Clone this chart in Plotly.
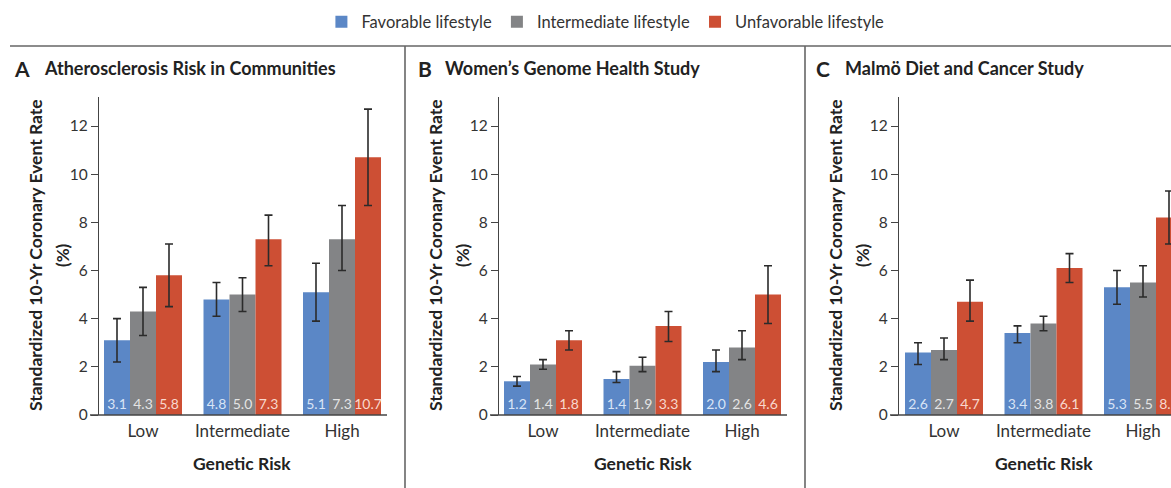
import plotly.graph_objects as go

categories = ["Low", "Intermediate", "High"]
series_names = ["Favorable lifestyle", "Intermediate lifestyle", "Unfavorable lifestyle"]
colors = ["#5b87c6", "#838486", "#cd4f34"]
label_colors = ["rgba(225,236,250,0.95)", "rgba(235,235,235,0.95)", "rgba(252,225,218,0.95)"]

panel_letters = ["A", "B", "C"]
panel_titles = ["Atherosclerosis Risk in Communities", "Women\u2019s Genome Health Study", "Malm\u00f6 Diet and Cancer Study"]

# values[panel][series][category]
A_vals = [[3.1, 4.8, 5.1], [4.3, 5.0, 7.3], [5.8, 7.3, 10.7]]
A_hi = [[4.0, 5.5, 6.3], [5.3, 5.7, 8.7], [7.1, 8.3, 12.7]]
A_lo = [[2.2, 4.1, 3.9], [3.3, 4.3, 6.0], [4.5, 6.2, 8.7]]
A_lbl = [["3.1", "4.8", "5.1"], ["4.3", "5.0", "7.3"], ["5.8", "7.3", "10.7"]]

B_vals = [[1.4, 1.5, 2.2], [2.1, 2.05, 2.8], [3.1, 3.7, 5.0]]
B_hi = [[1.6, 1.8, 2.7], [2.3, 2.4, 3.5], [3.5, 4.3, 6.2]]
B_lo = [[1.2, 1.35, 1.8], [1.9, 1.8, 2.3], [2.7, 3.05, 3.8]]
B_lbl = [["1.2", "1.4", "2.0"], ["1.4", "1.9", "2.6"], ["1.8", "3.3", "4.6"]]

C_vals = [[2.6, 3.4, 5.3], [2.7, 3.8, 5.5], [4.7, 6.1, 8.2]]
C_hi = [[3.0, 3.7, 6.0], [3.2, 4.1, 6.2], [5.6, 6.7, 9.3]]
C_lo = [[2.1, 3.0, 4.6], [2.3, 3.5, 4.9], [3.9, 5.5, 7.1]]
C_lbl = [["2.6", "3.4", "5.3"], ["2.7", "3.8", "5.5"], ["4.7", "6.1", "8.2"]]

panels = [(A_vals, A_hi, A_lo, A_lbl), (B_vals, B_hi, B_lo, B_lbl), (C_vals, C_hi, C_lo, C_lbl)]

W, H = 1171, 488
FONT = "Lato"
TXT = "#333333"

# pixel layout
axis_x0 = [99, 499, 899]       # y-axis line x
group_c0 = [143, 543, 944]     # center of first group
px_per_cat = 99.5
y_bottom_px = 415
y_top_px = 97
px_per_unit = (415 - 126) / 12.0
ymax = (y_bottom_px - y_top_px) / px_per_unit

fig = go.Figure()
xpos = [0, 1, 2]

for p, (vals, hi, lo, lbl) in enumerate(panels):
    xa = "x" if p == 0 else f"x{p+1}"
    ya = "y" if p == 0 else f"y{p+1}"
    for s in range(3):
        fig.add_trace(go.Bar(
            x=xpos, y=vals[s], name=series_names[s],
            marker=dict(color=colors[s], line=dict(width=0)),
            error_y=dict(type="data", symmetric=False,
                         array=[h - v for h, v in zip(hi[s], vals[s])],
                         arrayminus=[v - l for v, l in zip(vals[s], lo[s])],
                         color="#2b2b2b", thickness=1.6, width=4),
            text=lbl[s], textposition="inside", insidetextanchor="start",
            textangle=0,
            textfont=dict(family=FONT, size=14, color=label_colors[s]),
            cliponaxis=True, constraintext="none",
            showlegend=(p == 0), legendgroup=series_names[s],
            xaxis=xa, yaxis=ya, hoverinfo="skip",
        ))

layout = dict(
    width=W, height=H, margin=dict(l=0, r=0, t=0, b=0, pad=0, autoexpand=False),
    paper_bgcolor="white", plot_bgcolor="white",
    barmode="group", bargap=0.216, bargroupgap=0,
    font=dict(family=FONT, color=TXT),
    legend=dict(orientation="h", x=0.517, xanchor="center", y=1 - 22 / H, yanchor="middle",
                font=dict(family=FONT, size=16.5, color=TXT), itemwidth=30,
                traceorder="normal", bgcolor="rgba(0,0,0,0)"),
)

for p in range(3):
    sfx = "" if p == 0 else str(p + 1)
    x0px = axis_x0[p]
    x1px = min(x0px + 288, W)
    r0 = (x0px - group_c0[p]) / px_per_cat
    r1 = (x1px - group_c0[p]) / px_per_cat
    layout["xaxis" + sfx] = dict(
        domain=[x0px / W, x1px / W], range=[r0, r1],
        tickvals=xpos, ticktext=categories, ticks="", showgrid=False, zeroline=False,
        showline=False, tickfont=dict(family=FONT, size=17, color=TXT),
        ticklabelstandoff=4, automargin=False,
        anchor="y" + sfx, fixedrange=True,
    )
    layout["yaxis" + sfx] = dict(
        domain=[(H - y_bottom_px) / H, (H - y_top_px) / H], range=[0, ymax],
        tickvals=[0, 2, 4, 6, 8, 10, 12], ticks="outside", ticklen=7, tickwidth=1.3,
        tickcolor="#444", showline=True, linecolor="#444", linewidth=1.3,
        showgrid=False, zeroline=False, tickfont=dict(family=FONT, size=15.5, color=TXT),
        automargin=False, anchor="x" + sfx, fixedrange=True,
    )

fig.update_layout(**layout)

shapes = []
annotations = []
for p in range(3):
    x0px = axis_x0[p]
    shapes.append(dict(type="line", xref="paper", yref="paper",
                       x0=(x0px - 9) / W, x1=min(x0px + 288, W) / W,
                       y0=(H - y_bottom_px) / H, y1=(H - y_bottom_px) / H,
                       line=dict(color="#444", width=1.4)))
    letter_x = [12, 416, 814][p]
    title_x = [42, 443, 843][p]
    annotations.append(dict(text=f"<b>{panel_letters[p]}</b>", xref="paper", yref="paper",
                            x=letter_x / W, y=1 - 68 / H, xanchor="left", yanchor="middle",
                            showarrow=False, font=dict(family=FONT, size=21, color="#222")))
    annotations.append(dict(text=f"<b>{panel_titles[p]}</b>", xref="paper", yref="paper",
                            x=title_x / W, y=1 - 68 / H, xanchor="left", yanchor="middle",
                            showarrow=False, font=dict(family=FONT, size=18, color="#222")))
    annotations.append(dict(text="<b>Standardized 10-Yr Coronary Event Rate</b>", xref="paper", yref="paper",
                            x=(x0px - 64) / W, y=1 - 255 / H, xanchor="center", yanchor="middle",
                            textangle=-90, showarrow=False,
                            font=dict(family=FONT, size=17.5, color="#222")))
    annotations.append(dict(text="<b>(%)</b>", xref="paper", yref="paper",
                            x=(x0px - 37) / W, y=1 - 255 / H, xanchor="center", yanchor="middle",
                            textangle=-90, showarrow=False,
                            font=dict(family=FONT, size=17, color="#222")))
    annotations.append(dict(text="<b>Genetic Risk</b>", xref="paper", yref="paper",
                            x=(group_c0[p] + px_per_cat) / W, y=1 - 463 / H,
                            xanchor="center", yanchor="middle", showarrow=False,
                            font=dict(family=FONT, size=17.5, color="#222")))

shapes.append(dict(type="line", xref="paper", yref="paper", x0=10 / W, x1=1,
                   y0=1 - 46 / H, y1=1 - 46 / H, line=dict(color="#666", width=1.6)))
for vx in [405, 805]:
    shapes.append(dict(type="line", xref="paper", yref="paper", x0=vx / W, x1=vx / W,
                       y0=0, y1=1 - 46 / H, line=dict(color="#666", width=1.6)))

fig.update_layout(shapes=shapes, annotations=annotations)
post = (
    "var de=document.documentElement,b=document.body;"
    "de.style.margin='0';de.style.padding='0';de.style.overflow='hidden';"
    "b.style.margin='0';b.style.padding='0';b.style.overflow='hidden';"
)
fig.write_html("out.html", config={"displayModeBar": False}, post_script=post)
